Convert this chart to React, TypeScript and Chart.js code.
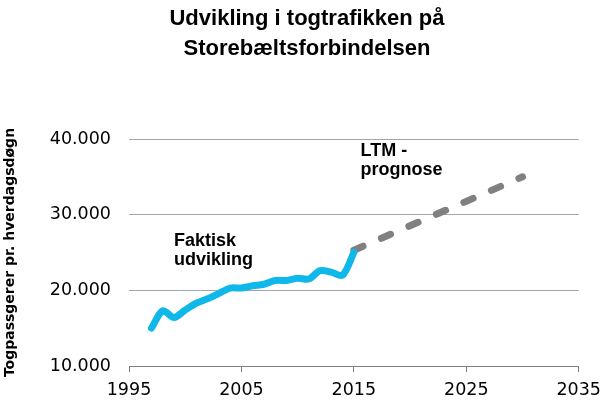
import React, { useEffect, useRef } from "react";
import { Chart, registerables } from "chart.js";

Chart.register(...registerables);

const titleLines = ["Udvikling i togtrafikken på", "Storebæltsforbindelsen"];
const yAxisTitle = "Togpassgerer pr. hverdagsdøgn";

const actualYears = [1997, 1998, 1999, 2000, 2001, 2002, 2003, 2004, 2005, 2006, 2007, 2008, 2009, 2010, 2011, 2012, 2013, 2014, 2015];
const actualValues = [15000, 17300, 16400, 17400, 18300, 18900, 19600, 20300, 20300, 20600, 20800, 21300, 21300, 21600, 21500, 22600, 22400, 22000, 25000];

const forecastYears = [2015, 2030];
const forecastValues = [25300, 35000];

const xTicks = [1995, 2005, 2015, 2025, 2035];
const yTicks = [10000, 20000, 30000, 40000];

const annotations = [
  { lines: ["Faktisk", "udvikling"], x: 1999, y: 25800 },
  { lines: ["LTM -", "prognose"], x: 2015.6, y: 37700 },
];

const FONT = "'Liberation Sans', Arial, Helvetica, sans-serif";
const WIDE = "'DejaVu Sans', 'Liberation Sans', sans-serif";

const titlePlugin = {
  id: "customTitle",
  afterDraw(chart: any) {
    const { ctx } = chart;
    ctx.save();
    ctx.fillStyle = "#000";
    ctx.font = `bold 22px ${FONT}`;
    ctx.textAlign = "center";
    ctx.textBaseline = "alphabetic";
    ctx.fillText(titleLines[0], 307, 25);
    ctx.fillText(titleLines[1], 307, 55);
    ctx.restore();
  },
};

const annotationPlugin = {
  id: "textAnnotations",
  afterDatasetsDraw(chart: any) {
    const { ctx, scales } = chart;
    ctx.save();
    ctx.fillStyle = "#000";
    ctx.font = `bold 18px ${FONT}`;
    ctx.textAlign = "left";
    ctx.textBaseline = "alphabetic";
    annotations.forEach((a) => {
      const px = scales.x.getPixelForValue(a.x);
      const py = scales.y.getPixelForValue(a.y);
      a.lines.forEach((l, i) => ctx.fillText(l, px, py + i * 19));
    });
    ctx.restore();
  },
};

export default function App() {
  const ref = useRef<HTMLCanvasElement>(null);
  useEffect(() => {
    const chart = new Chart(ref.current!, {
      type: "line",
      data: {
        datasets: [
          {
            data: actualYears.map((x, i) => ({ x, y: actualValues[i] })),
            borderColor: "#10b8ea",
            borderWidth: 7,
            borderCapStyle: "round",
            borderJoinStyle: "round",
            pointRadius: 0,
            tension: 0.3,
            fill: false,
          },
          {
            data: forecastYears.map((x, i) => ({ x, y: forecastValues[i] })),
            borderColor: "#808080",
            borderWidth: 7,
            borderCapStyle: "round",
            borderDash: [10, 20],
            pointRadius: 0,
            fill: false,
          },
        ],
      },
      options: {
        animation: false,
        responsive: false,
        maintainAspectRatio: false,
        layout: { padding: { left: 0, right: 27, top: 139, bottom: 0 } },
        plugins: {
          legend: { display: false },
          tooltip: { enabled: false },
          title: { display: false },
        },
        scales: {
          x: {
            type: "linear",
            min: 1995,
            max: 2035,
            afterBuildTicks: (s: any) => {
              s.ticks = xTicks.map((v) => ({ value: v }));
            },
            afterFit: (s: any) => {
              s.height = 36;
            },
            grid: { drawOnChartArea: false, drawTicks: true, tickLength: 6, color: "#7f7f7f" },
            border: { display: true, color: "#7f7f7f", width: 1 },
            ticks: {
              color: "#000",
              font: { family: WIDE, size: 17.5 },
              padding: 8,
              maxRotation: 0,
              autoSkip: false,
              callback: (v: any) => String(v),
            },
          },
          y: {
            min: 10000,
            max: 40000,
            afterBuildTicks: (s: any) => {
              s.ticks = yTicks.map((v) => ({ value: v }));
            },
            afterFit: (s: any) => {
              s.width = 129;
            },
            grid: { color: (c: any) => (c.tick && c.tick.value === 10000 ? "rgba(0,0,0,0)" : "#a6a6a6"), drawTicks: false, lineWidth: 1 },
            border: { display: false },
            ticks: {
              color: "#000",
              font: { family: WIDE, size: 17.5 },
              padding: 18,
              callback: (v: any) => Number(v).toLocaleString("da-DK"),
            },
            title: {
              display: true,
              text: yAxisTitle,
              color: "#000",
              font: { family: WIDE, size: 14, weight: "bold" },
              padding: { top: 2, bottom: 0 },
            },
          },
        },
      },
      plugins: [annotationPlugin, titlePlugin],
    });
    return () => chart.destroy();
  }, []);
  return (
    <div style={{ position: "fixed", left: 0, top: 0, width: 609, height: 402, background: "#fff" }}>
      <canvas ref={ref} width={609} height={402} style={{ display: "block" }} />
    </div>
  );
}
